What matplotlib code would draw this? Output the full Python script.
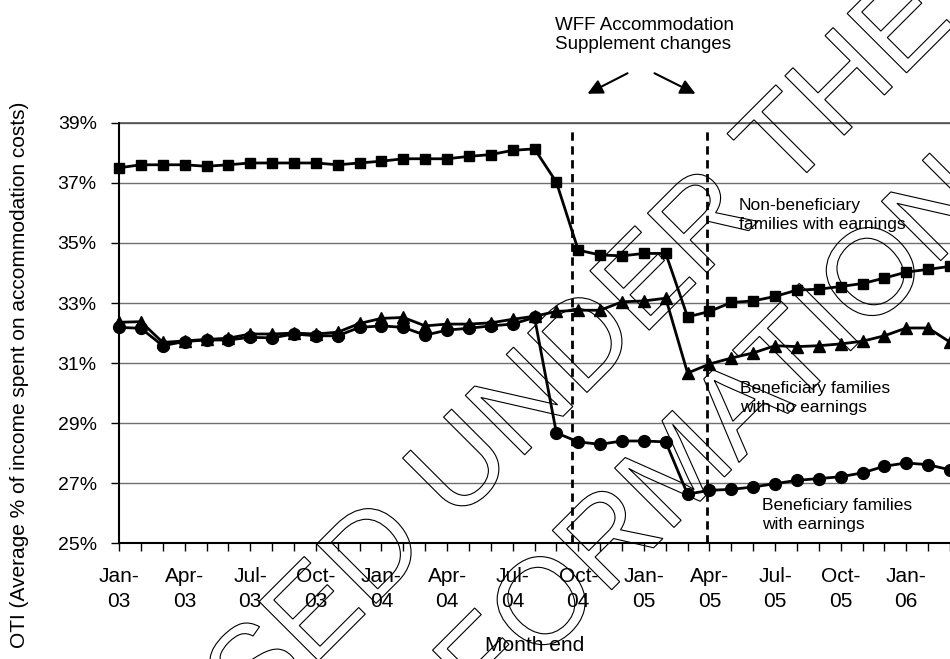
import numpy as np
import matplotlib
matplotlib.use("Agg")
import matplotlib.pyplot as plt
from matplotlib.textpath import TextPath
from matplotlib.patches import PathPatch
from matplotlib.font_manager import FontProperties
import matplotlib.transforms as mtransforms

plt.rcParams['font.family'] = ['Liberation Sans', 'DejaVu Sans']

# monthly values, Jan-03 .. Mar-06 (index 0..38)
non_ben_earn = [37.50, 37.60, 37.60, 37.60, 37.55, 37.60, 37.66, 37.66, 37.66, 37.66,
                37.60, 37.66, 37.72, 37.80, 37.80, 37.80, 37.88, 37.94, 38.08, 38.13,
                37.02, 34.76, 34.60, 34.57, 34.65, 34.65, 32.54, 32.72, 33.02, 33.07,
                33.22, 33.43, 33.46, 33.55, 33.65, 33.83, 34.03, 34.12, 34.22]
ben_no_earn = [32.36, 32.38, 31.69, 31.74, 31.79, 31.83, 31.97, 31.97, 32.00, 31.97,
               32.03, 32.32, 32.49, 32.52, 32.24, 32.30, 32.30, 32.34, 32.46, 32.56,
               32.72, 32.76, 32.76, 33.04, 33.07, 33.16, 30.67, 30.97, 31.17, 31.34,
               31.58, 31.55, 31.58, 31.64, 31.73, 31.91, 32.17, 32.17, 31.70]
ben_earn = [32.19, 32.16, 31.58, 31.72, 31.77, 31.77, 31.86, 31.84, 31.97, 31.91,
            31.91, 32.19, 32.24, 32.19, 31.93, 32.10, 32.16, 32.24, 32.30, 32.52,
            28.68, 28.38, 28.30, 28.41, 28.41, 28.38, 26.64, 26.77, 26.80, 26.88,
            26.99, 27.10, 27.16, 27.22, 27.35, 27.57, 27.68, 27.62, 27.45]
tick_labels = ['Jan-\n03', 'Apr-\n03', 'Jul-\n03', 'Oct-\n03', 'Jan-\n04', 'Apr-\n04',
               'Jul-\n04', 'Oct-\n04', 'Jan-\n05', 'Apr-\n05', 'Jul-\n05', 'Oct-\n05',
               'Jan-\n06']
y_ticks = [25, 27, 29, 31, 33, 35, 37, 39]
change_months = [20.73, 26.89]

x = np.arange(len(non_ben_earn))

fig = plt.figure(figsize=(9.5, 6.59), dpi=100)
ax = fig.add_axes([0.1253, 0.1753, 0.8747, 0.6385])

ax.plot(x, non_ben_earn, color='black', lw=2, marker='s', ms=7, clip_on=False, zorder=4)
ax.plot(x, ben_no_earn, color='black', lw=2, marker='^', ms=8, clip_on=False, zorder=4)
ax.plot(x, ben_earn, color='black', lw=2, marker='o', ms=8.5, clip_on=False, zorder=4)

for m in change_months:
    ax.axvline(m, ymin=0, ymax=0.988, color='black', lw=2, ls=(0, (3, 2)), zorder=3)

ax.set_xlim(0, 37.64)
ax.set_ylim(25, 39)
ax.set_yticks(y_ticks)
ax.set_yticklabels([f'{v}%' for v in y_ticks], fontsize=14)
ax.set_xticks(x[::3])
ax.set_xticklabels(tick_labels, fontsize=15, linespacing=1.4)
ax.set_xticks(x, minor=True)
ax.tick_params(axis='x', which='both', direction='out', length=6, width=1, pad=11)
ax.tick_params(axis='y', direction='out', length=6, width=1, pad=10)
ax.grid(axis='y', color='#707070', lw=1)
ax.set_axisbelow(True)
for side in ['top', 'right']:
    ax.spines[side].set_visible(False)
ax.spines['left'].set_linewidth(1.5)
ax.spines['bottom'].set_linewidth(1.5)
ax.axhline(39, color='#505050', lw=1.2, clip_on=False)

ax.set_xlabel('Month end', fontsize=15, labelpad=18)
fig.text(20 / 950, (659 - 375) / 659, 'OTI (Average % of income spent on accommodation costs)',
         rotation=90, fontsize=15, ha='center', va='center')

# annotations (pixel positions converted to figure fraction)
def fx(px):
    return px / 950

def fy(py):
    return (659 - py) / 659

fig.text(fx(555), fy(35), 'WFF Accommodation\nSupplement changes', fontsize=13.5,
         ha='left', va='center', linespacing=1.2)
fig.text(fx(739), fy(215), 'Non-beneficiary\nfamilies with earnings', fontsize=12.5,
         ha='left', va='center', linespacing=1.4)
fig.text(fx(740), fy(398), 'Beneficiary families\nwith no earnings', fontsize=12.5,
         ha='left', va='center', linespacing=1.4)
fig.text(fx(762), fy(515), 'Beneficiary families\nwith earnings', fontsize=12.5,
         ha='left', va='center', linespacing=1.4)

for (x0, y0, x1, y1) in [(630, 72, 585, 95), (652, 72, 698, 95)]:
    fig.add_artist(plt.Annotation('', xy=(fx(x1), fy(y1)), xytext=(fx(x0), fy(y0)),
                                  xycoords='figure fraction', textcoords='figure fraction',
                                  arrowprops=dict(arrowstyle='-|>,head_length=0.9,head_width=0.45',
                                                  color='black', lw=1.5)))

# outlined watermark
fp = FontProperties(family='Liberation Sans')
for text, cx, cy in [('RELEASED UNDER THE', 436, 484),
                     ('OFFICIAL INFORMATION ACT', 560, 582)]:
    tp = TextPath((0, 0), text, size=122, prop=fp)
    ext = tp.get_extents()
    tr = (mtransforms.Affine2D()
          .translate(-(ext.x0 + ext.x1) / 2, -(ext.y0 + ext.y1) / 2)
          .rotate_deg(45)
          .translate(cx, 659 - cy))
    patch = PathPatch(tr.transform_path(tp), facecolor='none', edgecolor='black',
                      lw=0.8, transform=mtransforms.IdentityTransform(), zorder=10)
    fig.add_artist(patch)

fig.savefig('out.png', dpi=100)
